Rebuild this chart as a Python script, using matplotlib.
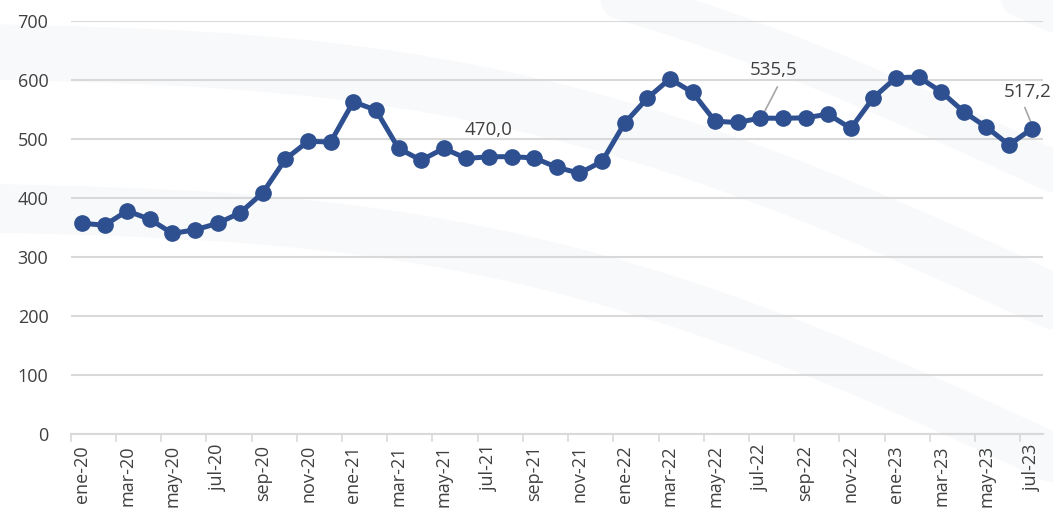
import matplotlib
matplotlib.use("Agg")
import matplotlib.pyplot as plt
import numpy as np

months = ["ene", "feb", "mar", "abr", "may", "jun", "jul", "ago", "sep", "oct", "nov", "dic"]
categories = [f"{m}-{y}" for y in ["20", "21", "22", "23"] for m in months][:43]

values = [357, 354, 378, 364, 340, 346, 357, 375, 409, 466, 496, 495,
          563, 549, 484, 464, 484, 467, 470.0, 470, 468, 452, 442, 462,
          527, 569, 602, 579, 530, 528, 535.5, 535, 536, 542, 518, 570,
          604, 605, 580, 546, 520, 490, 517.2]

annotations = {18: "470,0", 30: "535,5", 42: "517,2"}

plt.rcParams['font.family'] = ['Open Sans', 'DejaVu Sans']

fig = plt.figure(figsize=(10.53, 5.21), dpi=100)
ax = fig.add_axes([0.0671, 0.167, 0.9234, 0.7927])

# faint background swooshes
bg = fig.add_axes([0, 0, 1, 1], zorder=-5)
bg.set_xlim(0, 1); bg.set_ylim(0, 1); bg.axis('off')
t = np.linspace(0, 1, 200)
for off, w in [(0.0, 40), (0.25, 30), (-0.3, 35), (0.55, 25)]:
    bg.plot(t, 0.9 - 0.5 * t + off + 0.15 * np.sin(t * 3), color='#eef0f4', lw=w, alpha=0.4, solid_capstyle='round')

x = np.arange(len(values))
ax.plot(x, values, color='#2E5090', lw=3.6, marker='o', markersize=11, zorder=3)

ax.set_xlim(-0.5, len(values) - 0.5)
ax.set_ylim(0, 700)
ax.set_yticks(range(0, 701, 100))
ax.yaxis.grid(True, color='#d9d9d9', lw=1.5)
ax.set_axisbelow(True)
ax.patch.set_alpha(0)

ax.set_xticks(x[::2])
ax.set_xticklabels(categories[::2], rotation=90, fontsize=13, color='#404040')
ax.tick_params(axis='x', length=0, pad=8)
for b in np.arange(-0.5, len(values), 2):
    ax.plot([b, b], [0, -12], color='#d9d9d9', lw=1.2, clip_on=False, zorder=1)
ax.tick_params(axis='y', length=0, labelsize=13, labelcolor='#404040', pad=16)

for s in ['top', 'right', 'left']:
    ax.spines[s].set_visible(False)
ax.spines['bottom'].set_color('#d9d9d9')
ax.spines['bottom'].set_linewidth(1.5)

# annotations
ax.text(18, 515, annotations[18], ha='center', va='center', fontsize=13.5, color='#404040')
ax.text(30.6, 617, annotations[30], ha='center', va='center', fontsize=13.5, color='#404040')
ax.plot([30.1, 30.75], [540, 588], color='#a6a6a6', lw=1.2)
ax.text(41.8, 580, annotations[42], ha='center', va='center', fontsize=13.5, color='#404040')
ax.plot([41.7, 42.0], [553, 525], color='#a6a6a6', lw=1.2)

fig.savefig("out.png", dpi=100)
